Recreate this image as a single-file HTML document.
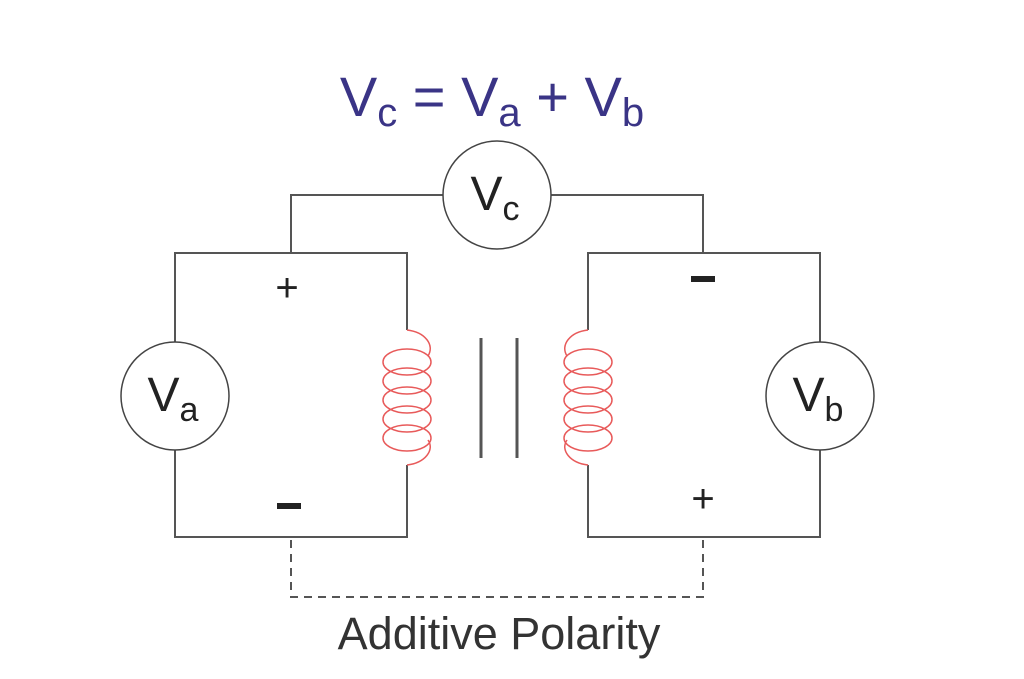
<!DOCTYPE html>
<html><head><style>body{margin:0;background:#fff}svg{display:block}</style></head><body>
<svg width="1024" height="679" viewBox="0 0 1024 679" xmlns="http://www.w3.org/2000/svg">
<g fill="none" stroke="#555" stroke-width="2">
<path d="M291 253V195H443M551 195H703V253"/>
<path d="M407 330V253H175V342M175 450V537H407V465"/>
<path d="M588 330V253H820V342M820 450V537H588V465"/>
<path d="M481 338V458M517 338V458" stroke-width="3"/>
<path d="M291 540V597H703V540" stroke-dasharray="8,6"/>
</g>
<g fill="#fff" stroke="#444" stroke-width="1.5">
<circle cx="497" cy="195" r="54"/>
<circle cx="175" cy="396" r="54"/>
<circle cx="820" cy="396" r="54"/>
</g>
<g fill="none" stroke="#e85a5a" stroke-width="1.5">
<path d="M407 330 C425 332 435 345 428 356 M407 465 C425 463 435 450 428 440"/>
<ellipse cx="407" cy="362" rx="24" ry="13"/><ellipse cx="407" cy="381" rx="24" ry="13"/><ellipse cx="407" cy="400" rx="24" ry="13"/><ellipse cx="407" cy="419" rx="24" ry="13"/><ellipse cx="407" cy="438" rx="24" ry="13"/>
<path d="M588 330 C570 332 560 345 567 356 M588 465 C570 463 560 450 567 440"/>
<ellipse cx="588" cy="362" rx="24" ry="13"/><ellipse cx="588" cy="381" rx="24" ry="13"/><ellipse cx="588" cy="400" rx="24" ry="13"/><ellipse cx="588" cy="419" rx="24" ry="13"/><ellipse cx="588" cy="438" rx="24" ry="13"/>
</g>
<g font-family="Liberation Sans, sans-serif">
<text x="492" y="116" font-size="56" fill="#3a3486" text-anchor="middle">V<tspan font-size="40" dy="10">c</tspan><tspan dy="-10"> = V</tspan><tspan font-size="40" dy="10">a</tspan><tspan dy="-10"> + V</tspan><tspan font-size="40" dy="10">b</tspan></text>
<text x="495" y="210" font-size="48" fill="#222" text-anchor="middle">V<tspan font-size="34" dy="10">c</tspan></text>
<text x="173" y="411" font-size="48" fill="#222" text-anchor="middle">V<tspan font-size="34" dy="10">a</tspan></text>
<text x="818" y="411" font-size="48" fill="#222" text-anchor="middle">V<tspan font-size="34" dy="10">b</tspan></text>
<text x="499" y="649" font-size="45" fill="#333" text-anchor="middle">Additive Polarity</text>
<text x="287" y="301" font-size="40" fill="#222" text-anchor="middle">+</text>
<text x="703" y="512" font-size="40" fill="#222" text-anchor="middle">+</text>
</g>
<rect x="277" y="503" width="24" height="6" fill="#222"/>
<rect x="691" y="276" width="24" height="6" fill="#222"/>
</svg>
</body></html>
